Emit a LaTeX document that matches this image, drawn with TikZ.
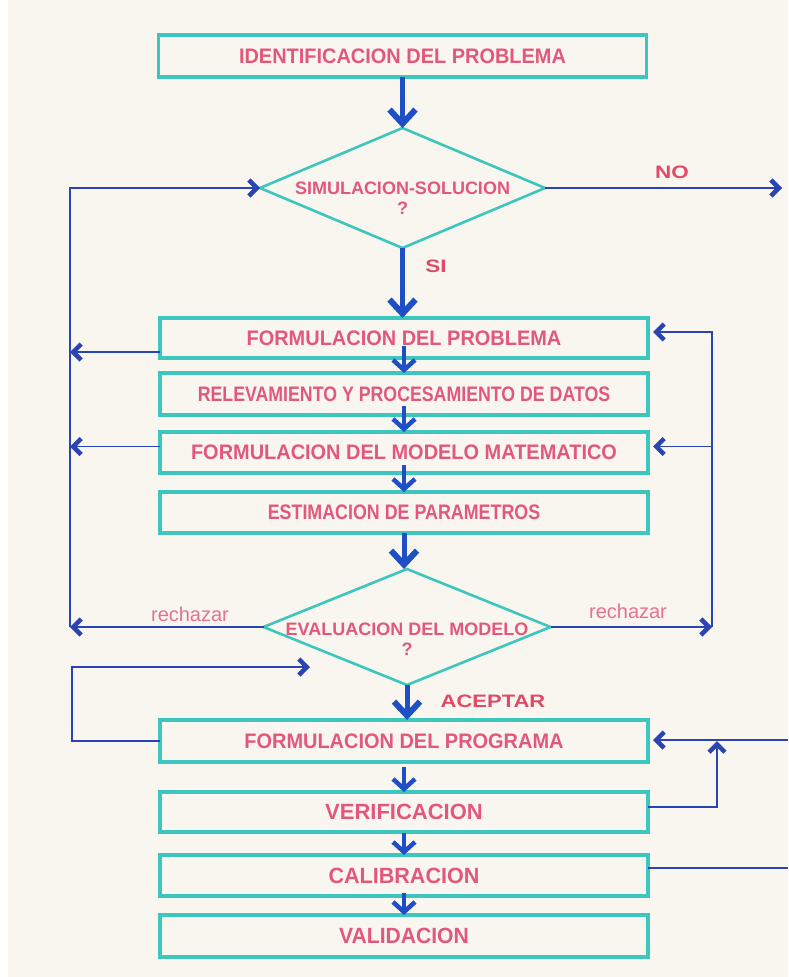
\documentclass[tikz,border=0pt]{standalone}
\usepackage{fontspec}
\setmainfont{Liberation Sans}
\usetikzlibrary{arrows.meta,shapes.geometric,calc}
\definecolor{cream}{HTML}{F8F6EF}
\definecolor{teal2}{HTML}{3CC6BE}
\definecolor{pinkt}{HTML}{E3587A}
\definecolor{pinkb}{HTML}{E04A68}
\definecolor{bluel}{HTML}{1F4FC4}
\definecolor{bluet}{HTML}{2A44B4}
\newcommand{\sx}[2]{\scalebox{#1}[1]{#2}}
\begin{document}
\begin{tikzpicture}[x=1pt,y=-1pt,
  box/.style={draw=teal2,line width=3.2pt,rectangle,minimum width=488pt,inner sep=0pt,outer sep=0pt,text=pinkt,font=\bfseries\fontsize{21}{23}\selectfont},
  boxbig/.style={box,font=\bfseries\fontsize{22}{24}\selectfont},
  dia/.style={draw=teal2,line width=2.6pt,diamond,inner sep=0pt,outer sep=0pt},
  dtext/.style={text=pinkt,align=center,font=\bfseries\fontsize{18}{20}\selectfont},
  big/.style={draw=bluel,line width=5pt,-{Straight Barb[length=14pt,width=26pt,line width'=6pt]}},
  mid/.style={draw=bluel,line width=3.5pt,-{Straight Barb[length=10pt,width=22pt,line width'=4.5pt]}},
  side/.style={draw=bluet,line width=1.8pt,-{Straight Barb[length=8pt,width=16pt,line width'=4.5pt]}},
  plain/.style={draw=bluet,line width=1.8pt},
  lab/.style={text=pinkb,font=\bfseries\fontsize{18}{20}\selectfont},
  rej/.style={text=pinkt!85!white,font=\fontsize{20}{22}\selectfont}
]
\useasboundingbox (0,0) rectangle (788,977);
\fill[white] (0,0) rectangle (788,977);
\fill[cream] (8,0) rectangle (788,977);

% nodes
\node[box,minimum height=42pt] (b1) at (402.5,56) {\sx{0.95}{IDENTIFICACION DEL PROBLEMA}};
\node[dia,minimum width=285pt,minimum height=120pt] (d1) at (402.5,188) {};
\node[dtext] (t1) at (402.5,198) {SIMULACION-SOLUCION\\?};
\node[box,minimum height=40pt] (b2) at (404,338) {\sx{0.95}{FORMULACION DEL PROBLEMA}};
\node[box,minimum height=42pt] (b3) at (404,394) {\sx{0.845}{RELEVAMIENTO Y PROCESAMIENTO DE DATOS}};
\node[box,minimum height=41pt] (b4) at (404,452.5) {\sx{0.95}{FORMULACION DEL MODELO MATEMATICO}};
\node[box,minimum height=41pt] (b5) at (404,512.5) {\sx{0.85}{ESTIMACION DE PARAMETROS}};
\node[dia,minimum width=287pt,minimum height=116pt] (d2) at (407,627) {};
\node[dtext] (t2) at (407,639) {EVALUACION DEL MODELO\\?};
\node[box,minimum height=42pt] (b6) at (404,741) {\sx{0.95}{FORMULACION DEL PROGRAMA}};
\node[boxbig,minimum height=40pt] (b7) at (404,812) {VERIFICACION};
\node[boxbig,minimum height=41pt] (b8) at (404,875.5) {\sx{0.98}{CALIBRACION}};
\node[boxbig,minimum height=42pt] (b9) at (404,936) {\sx{0.96}{VALIDACION}};

% labels
\node[lab] (lsi) at (436,266) {\sx{1.25}{SI}};
\node[lab] (lno) at (672,172) {\sx{1.25}{NO}};
\node[lab] (lac) at (493,701) {\sx{1.22}{ACEPTAR}};
\node[rej] (rj1) at (190,614) {rechazar};
\node[rej] (rj2) at (628,611) {rechazar};

% main vertical flow
\draw[big] (b1.south) -- (d1.north);
\draw[big] (d1.south) -- (d1.south |- b2.north);
\draw[mid] ($(b2.south)+(0,-12)$) -- (b3.north);
\draw[mid] ($(b3.south)+(0,-9)$) -- (b4.north);
\draw[mid] ($(b4.south)+(0,-8)$) -- (b5.north);
\draw[big] (b5.south) -- (b5.south |- d2.north);
\draw[big] (d2.south) -- (d2.south |- b6.north);
\draw[mid] ($(b6.south)+(0,5)$) -- (b7.north);
\draw[mid] ($(b7.south)+(0,1)$) -- (b8.north);
\draw[mid] ($(b8.south)+(0,-3)$) -- (b9.north);

% NO exit
\coordinate (noend) at (782,188);
\draw[side] (d1.east) -- (noend);

% left loop
\coordinate (L2) at (70,627);
\draw[side] (d2.west) -- (L2);
\draw[side] (L2) |- (d1.west);
\coordinate (b2l) at ($(b2.west)+(0,14)$);
\draw[side] (b2l) -- (b2l -| L2);
\coordinate (b4l) at ($(b4.west)+(0,-6)$);
\draw[side] (b4l) -- (b4l -| L2);

% right loop
\coordinate (R2) at (712,627);
\draw[side] (d2.east) -- (R2);
\coordinate (b2r) at ($(b2.east)+(0,-6)$);
\draw[side,shorten >=5pt] (R2) |- (b2r);
\coordinate (b4r) at ($(b4.east)+(0,-6)$);
\draw[side,shorten >=5pt] (b4r -| R2) -- (b4r);

% lower left loop
\coordinate (L6) at (72,667);
\coordinate (L6e) at (310,667);
\draw[side] (b6.west) -| (L6) -- (L6e);

% lower right
\coordinate (R6) at (788,740);
\draw[side,shorten >=5pt] (R6) -- (R6 -| b6.east);
\coordinate (R7) at (717,741);
\coordinate (b7r) at ($(b7.east)+(0,-5)$);
\draw[side] (b7r) -| (R7);
\coordinate (R8) at (788,868);
\coordinate (b8r) at ($(b8.east)+(0,-7.5)$);
\draw[plain] (b8r) -- (b8r -| R8);
\end{tikzpicture}
\end{document}
